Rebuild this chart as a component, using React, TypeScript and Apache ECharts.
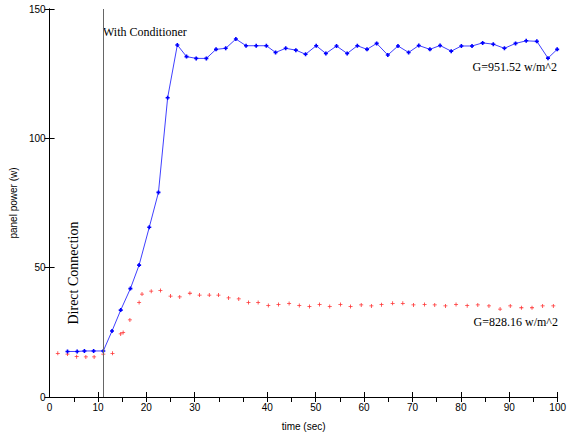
import React, { useEffect, useRef } from "react";
import * as echarts from "echarts";

// Sample positions along the time axis (axis units) and panel power (W)
const conditionedTime = [
  3.7, 5.7, 7.2, 9.1, 11.1, 12.9, 14.7, 16.7, 18.5, 20.6, 22.5, 24.4, 26.4, 28.3, 30.3, 32.4, 34.4,
  36.4, 38.5, 40.6, 42.7, 44.8, 46.7, 48.8, 50.9, 52.9, 55.1, 57.1, 59.3, 61.5, 63.6, 65.6, 67.6,
  69.9, 72.0, 74.2, 76.3, 78.6, 80.7, 83.0, 85.1, 87.3, 89.5, 91.7, 94.0, 96.3, 98.5, 100.7, 103.0,
  104.9,
];
const conditionedPower = [
  17.6, 17.6, 17.8, 17.8, 17.8, 25.5, 33.6, 41.9, 51.0, 65.6, 79.1, 115.7, 136.1, 131.6, 130.9,
  130.9, 134.4, 134.8, 138.4, 135.8, 135.8, 135.8, 133.2, 134.8, 134.1, 132.5, 135.8, 132.8, 135.7,
  132.8, 135.8, 134.4, 136.7, 132.2, 135.7, 133.2, 135.9, 134.4, 135.9, 133.7, 135.7, 135.7, 136.9,
  136.4, 134.8, 136.7, 137.7, 137.5, 131.0, 134.4,
];

const directTime = [
  1.7, 3.7, 5.6, 7.5, 9.2, 11.1, 13.0, 14.7, 15.2, 16.6, 18.5, 19.1, 21.0, 22.9, 25.0, 26.9, 29.0,
  31.0, 33.0, 34.9, 37.0, 39.1, 41.1, 43.1, 45.2, 47.3, 49.5, 51.6, 53.7, 55.8, 57.9, 60.1, 62.2,
  64.4, 66.5, 68.6, 70.9, 73.0, 75.2, 77.5, 79.6, 81.8, 84.0, 86.3, 88.5, 90.8, 93.1, 95.2, 97.5,
  99.7, 101.9, 104.1,
];
const directPower = [
  16.9, 16.6, 15.6, 15.5, 15.5, 16.6, 16.9, 24.4, 24.9, 29.8, 36.5, 39.8, 40.9, 41.2, 39.0, 38.7,
  40.1, 39.4, 39.4, 39.4, 38.3, 37.9, 36.5, 36.5, 35.4, 35.8, 36.1, 35.4, 35.0, 35.8, 35.0, 35.8,
  35.0, 35.6, 35.2, 35.7, 36.2, 36.2, 35.6, 35.8, 35.6, 35.2, 35.8, 35.3, 35.6, 35.2, 34.0, 35.2,
  34.5, 34.5, 35.2, 35.2,
];

// Switch-over to the conditioner
const conditionerOn = 11.0;

// Labelled ticks on the time axis (axis units -> printed label)
const xTickValues = [0, 10, 20, 30, 45, 55, 65, 75, 85, 95, 105];
const xTickLabels = ["0", "10", "20", "30", "40", "50", "60", "70", "80", "90", "100"];
// Ticks along the top border
const topTickValues = [
  5, 10, 15, 20, 25, 30, 35, 40, 45, 50, 55, 60, 65, 70, 75, 80, 85, 90, 95, 100, 105,
];
const yTickValues = [0, 50, 100, 150];

const SANS = '"Liberation Sans", Arial, sans-serif';
const SERIF = '"Liberation Serif", "Times New Roman", serif';

const plusThick = "path://M1.5,0H3.5V1.5H5V3.5H3.5V5H1.5V3.5H0V1.5H1.5Z";
const plusThin = "path://M2,0H3V2H5V3H3V5H2V3H0V2H2Z";

export default function App() {
  const ref = useRef<HTMLDivElement>(null);

  useEffect(() => {
    if (!ref.current) return;
    const chart = echarts.init(ref.current, undefined, { renderer: "svg" });

    const axisLine = { show: true, lineStyle: { color: "#000", width: 1 } };

    chart.setOption({
      animation: false,
      backgroundColor: "#fff",
      grid: { left: 46, top: 9, width: 516, height: 388, containLabel: false },
      xAxis: [
        {
          type: "value",
          position: "bottom",
          min: 0,
          max: 105,
          axisLine,
          axisTick: { inside: true, length: 5, customValues: xTickValues, lineStyle: { color: "#000" } },
          axisLabel: {
            customValues: xTickValues,
            formatter: (v: number) => {
              const i = xTickValues.findIndex((t) => Math.abs(t - v) < 1e-6);
              return i >= 0 ? xTickLabels[i] : "";
            },
            color: "#000",
            fontFamily: SANS,
            fontSize: 10,
            margin: 5,
          },
          splitLine: { show: false },
          name: "time (sec)",
          nameLocation: "middle",
          nameGap: 24,
          nameTextStyle: { color: "#000", fontFamily: SANS, fontSize: 10 },
        },
        {
          type: "value",
          position: "top",
          min: 0,
          max: 105,
          axisLine,
          axisTick: { inside: true, length: 5, customValues: topTickValues, lineStyle: { color: "#000" } },
          axisLabel: { show: false },
          splitLine: { show: false },
        },
      ],
      yAxis: [
        {
          type: "value",
          position: "left",
          min: 0,
          max: 150,
          interval: 50,
          axisLine,
          axisTick: { inside: true, length: 5, lineStyle: { color: "#000" } },
          axisLabel: { color: "#000", fontFamily: SANS, fontSize: 10, margin: 4 },
          splitLine: { show: false },
          name: "panel power (w)",
          nameLocation: "middle",
          nameGap: 27,
          nameTextStyle: { color: "#000", fontFamily: SANS, fontSize: 10 },
        },
        {
          type: "value",
          position: "right",
          min: 0,
          max: 150,
          interval: 50,
          axisLine,
          axisTick: { inside: true, length: 5, customValues: yTickValues, lineStyle: { color: "#000" } },
          axisLabel: { show: false },
          splitLine: { show: false },
        },
      ],
      series: [
        {
          name: "G=828.16",
          type: "scatter",
          data: directTime.map((t, i) => [t, directPower[i]]),
          symbol: plusThin,
          symbolSize: 4,
          itemStyle: { color: "#ff0000" },
          z: 3,
        },
        {
          name: "G=951.52",
          type: "line",
          data: conditionedTime.map((t, i) => [t, conditionedPower[i]]),
          symbol: plusThick,
          symbolSize: 4,
          showSymbol: true,
          lineStyle: { color: "#4040ff", width: 1 },
          itemStyle: { color: "#0000ff" },
          clip: true,
          z: 4,
          markLine: {
            silent: true,
            symbol: "none",
            label: { show: false },
            lineStyle: { color: "#666", type: "solid", width: 1 },
            data: [{ xAxis: conditionerOn }],
          },
        },
      ],
      graphic: [
        {
          type: "text",
          x: 103,
          y: 32,
          style: {
            text: "With Conditioner",
            font: `12px ${SERIF}`,
            fill: "#000",
            verticalAlign: "middle",
          },
        },
        {
          type: "text",
          x: 557,
          y: 67,
          style: {
            text: "G=951.52 w/m^2",
            font: `12px ${SERIF}`,
            fill: "#000",
            align: "right",
            verticalAlign: "middle",
          },
        },
        {
          type: "text",
          x: 558,
          y: 322,
          style: {
            text: "G=828.16 w/m^2",
            font: `12px ${SERIF}`,
            fill: "#000",
            align: "right",
            verticalAlign: "middle",
          },
        },
        {
          type: "text",
          x: 73,
          y: 273,
          rotation: Math.PI / 2,
          style: {
            text: "Direct Connection",
            font: `14px ${SERIF}`,
            fill: "#000",
            align: "center",
            verticalAlign: "middle",
          },
        },
      ],
    });

    return () => chart.dispose();
  }, []);

  return (
    <div
      ref={ref}
      style={{ position: "absolute", left: 0, top: 0, width: 569, height: 436, background: "#fff" }}
    />
  );
}
